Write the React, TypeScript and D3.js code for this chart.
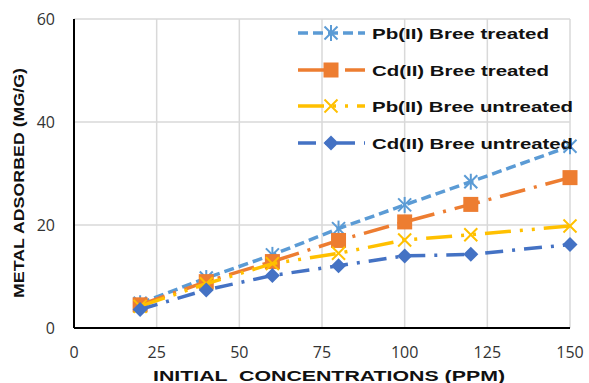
import React from "react";
import * as d3 from "d3";

const concentrations = [20, 40, 60, 80, 100, 120, 150];
const pbTreated = [4.8, 9.7, 14.2, 19.3, 23.9, 28.4, 35.3];
const cdTreated = [4.5, 9.0, 12.9, 17.0, 20.6, 24.0, 29.2];
const pbUntreated = [4.2, 8.6, 12.5, 14.5, 17.1, 18.1, 19.8];
const cdUntreated = [3.6, 7.4, 10.2, 12.1, 14.0, 14.3, 16.2];
const xTicks = [0, 25, 50, 75, 100, 125, 150];
const yTicks = [0, 20, 40, 60];
const seriesNames = [
  "Pb(II) Bree treated",
  "Cd(II) Bree treated",
  "Pb(II) Bree untreated",
  "Cd(II) Bree untreated",
];

type Marker = "star" | "square" | "x" | "diamond";
const series: { name: string; values: number[]; color: string; dash: string; marker: Marker }[] = [
  { name: seriesNames[0], values: pbTreated, color: "#5B9BD5", dash: "10,5", marker: "star" },
  { name: seriesNames[1], values: cdTreated, color: "#ED7D31", dash: "26,9,3,9", marker: "square" },
  { name: seriesNames[2], values: pbUntreated, color: "#FFC000", dash: "26,9,3,9,3,9", marker: "x" },
  { name: seriesNames[3], values: cdUntreated, color: "#4472C4", dash: "18,9,3,9", marker: "diamond" },
];

const W = 589;
const H = 383;
const left = 74;
const right = 570;
const top = 19;
const bottom = 328;

function MarkerShape({ type, cx, cy, color }: { type: Marker; cx: number; cy: number; color: string }) {
  if (type === "square") {
    return <rect x={cx - 7.5} y={cy - 7.5} width={15} height={15} fill={color} />;
  }
  if (type === "diamond") {
    const s = 7.5;
    return <path d={`M${cx},${cy - s}L${cx + s},${cy}L${cx},${cy + s}L${cx - s},${cy}Z`} fill={color} />;
  }
  if (type === "x") {
    const s = 6.5;
    return (
      <g stroke={color} strokeWidth={2}>
        <line x1={cx - s} y1={cy - s} x2={cx + s} y2={cy + s} />
        <line x1={cx - s} y1={cy + s} x2={cx + s} y2={cy - s} />
      </g>
    );
  }
  const s = 6.5;
  return (
    <g stroke={color} strokeWidth={2}>
      <line x1={cx - s} y1={cy - s} x2={cx + s} y2={cy + s} />
      <line x1={cx - s} y1={cy + s} x2={cx + s} y2={cy - s} />
      <line x1={cx} y1={cy - s - 1.5} x2={cx} y2={cy + s + 1.5} />
    </g>
  );
}

export default function App() {
  const x = d3.scaleLinear().domain([0, 150]).range([left, right]);
  const y = d3.scaleLinear().domain([0, 60]).range([bottom, top]);
  const line = d3
    .line<number>()
    .x((_, i) => x(concentrations[i]))
    .y((d) => y(d));

  const tickFont = "'Open Sans', 'Liberation Sans', Arial, sans-serif";
  const boldFont = "'Liberation Sans', Arial, sans-serif";
  const legendY = [33, 70, 106, 143];
  const legendWidths = [177, 177, 201, 201];

  return (
    <svg width={W} height={H} style={{ position: "absolute", left: 0, top: 0, background: "#fff" }}>
      {/* grid */}
      {yTicks.slice(1).map((t) => (
        <line key={"gy" + t} x1={left} x2={right} y1={y(t)} y2={y(t)} stroke="#D9D9D9" strokeWidth={1.5} />
      ))}
      {xTicks.slice(1).map((t) => (
        <line key={"gx" + t} x1={x(t)} x2={x(t)} y1={top} y2={bottom} stroke="#D9D9D9" strokeWidth={1.5} />
      ))}
      {/* axes */}
      <line x1={left} x2={left} y1={top} y2={bottom} stroke="#000" strokeWidth={2} />
      <line x1={left} x2={right} y1={bottom} y2={bottom} stroke="#000" strokeWidth={2} />
      {/* tick labels */}
      {yTicks.map((t) => (
        <text key={"ty" + t} x={55} y={y(t) + 6} textAnchor="end" fontFamily={tickFont} fontSize={16} fill="#333">
          {t}
        </text>
      ))}
      {xTicks.map((t) => (
        <text key={"tx" + t} x={x(t)} y={358} textAnchor="middle" fontFamily={tickFont} fontSize={16} fill="#333">
          {t}
        </text>
      ))}
      {/* axis titles */}
      <text
        x={153}
        y={380.5}
        fontFamily={boldFont}
        fontSize={15}
        fontWeight="bold"
        textLength={352}
        lengthAdjust="spacingAndGlyphs"
        fill="#111"
        style={{ whiteSpace: "pre" }}
      >
        {"INITIAL  CONCENTRATIONS (PPM)"}
      </text>
      <text
        transform={`translate(24,298) rotate(-90)`}
        fontFamily={boldFont}
        fontSize={14}
        fontWeight="bold"
        textLength={230}
        lengthAdjust="spacingAndGlyphs"
        fill="#111"
      >
        METAL ADSORBED (MG/G)
      </text>
      {/* series */}
      {series.map((s) => (
        <g key={s.name}>
          <path d={line(s.values) || ""} fill="none" stroke={s.color} strokeWidth={3.5} strokeDasharray={s.dash} />
          {s.values.map((v, i) => (
            <MarkerShape key={i} type={s.marker} cx={x(concentrations[i])} cy={y(v)} color={s.color} />
          ))}
        </g>
      ))}
      {/* legend */}
      {series.map((s, i) => (
        <g key={"lg" + s.name}>
          <line
            x1={298}
            x2={365}
            y1={legendY[i]}
            y2={legendY[i]}
            stroke={s.color}
            strokeWidth={3.5}
            strokeDasharray={s.dash}
          />
          <MarkerShape type={s.marker} cx={331} cy={legendY[i]} color={s.color} />
          <text
            x={372}
            y={legendY[i] + 5.5}
            fontFamily={boldFont}
            fontSize={15.5}
            fontWeight="bold"
            textLength={legendWidths[i]}
            lengthAdjust="spacingAndGlyphs"
            fill="#111"
          >
            {s.name}
          </text>
        </g>
      ))}
    </svg>
  );
}
